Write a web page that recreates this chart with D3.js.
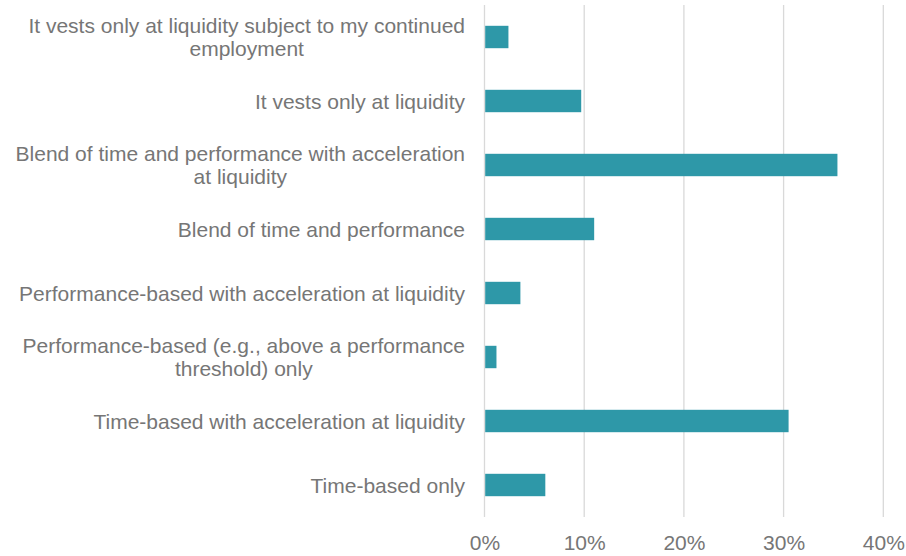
<!DOCTYPE html>
<html>
<head>
<meta charset="utf-8">
<script src="https://cdn.jsdelivr.net/npm/d3@7"></script>
<style>
  body { margin: 0; background: #fff; }
  svg text { font-family: "Liberation Sans", Arial, sans-serif; fill: #767676; }
</style>
</head>
<body>
<div class="barchart"></div>
<script>
// categories, top to bottom
var categories = [
    "It vests only at liquidity subject to my continued employment",
    "It vests only at liquidity",
    "Blend of time and performance with acceleration at liquidity",
    "Blend of time and performance",
    "Performance-based with acceleration at liquidity",
    "Performance-based (e.g., above a performance threshold) only",
    "Time-based with acceleration at liquidity",
    "Time-based only"
];
// share of respondents (%)
var values = [2.4, 9.7, 35.4, 11.0, 3.6, 1.2, 30.5, 6.1];
var ticks = [0, 10, 20, 30, 40];

var width = 906, height = 556;
// plot area (note: "top" is a reserved window global, so use plot*)
var plotLeft = 484.5, plotRight = 883.3, plotTop = 5, plotBottom = 517;
var fontSize = '21px';

var svg = d3.select('.barchart')
    .append("svg")
    .attr("width", width)
    .attr("height", height);

var x = d3.scaleLinear()
    .domain([0, 40])
    .range([plotLeft, plotRight]);

var y = d3.scaleBand()
    .domain(categories)
    .range([plotTop, plotBottom])
    .paddingInner(0.65)
    .paddingOuter(0.325);

// gridlines
svg.append('g').attr('class', 'grid')
    .selectAll('line')
    .data(ticks)
    .enter().append('line')
    .attr('x1', function(d) { return x(d); })
    .attr('x2', function(d) { return x(d); })
    .attr('y1', plotTop)
    .attr('y2', plotBottom)
    .style('stroke', '#d9d9d9')
    .style('stroke-width', 1.3);

// bars
svg.append('g').attr('class', 'bars')
    .selectAll('rect')
    .data(values)
    .enter().append('rect')
    .attr('x', x(0) + 0.7)
    .attr('y', function(d, i) { return y(categories[i]); })
    .attr('width', function(d) { return x(d) - x(0) - 0.7; })
    .attr('height', y.bandwidth())
    .attr('fill', '#2e98a8');

// x axis labels
var xAxis = d3.axisBottom(x)
    .tickValues(ticks)
    .tickSize(0)
    .tickPadding(0)
    .tickFormat(function(d) { return d + '%'; });

var gx = svg.append('g')
    .attr('transform', 'translate(0,' + 550 + ')')
    .call(xAxis);
gx.select('.domain').remove();
gx.selectAll('text')
    .attr('y', 0)
    .attr('dy', 0)
    .style('font-size', fontSize)
    .style('font-family', '"Liberation Sans", Arial, sans-serif')
    .attr('fill', '#767676');

// category labels, wrapped; extra lines centred under the longest one
var labelRight = 465, maxW = 466, lineH = 23.5;
var labels = svg.append('g').attr('class', 'labels');

categories.forEach(function(c) {
    var t = labels.append('text')
        .style('font-size', fontSize)
        .attr('text-anchor', 'middle');
    var words = c.split(' '), lines = [], cur = [];
    var probe = t.append('tspan');
    words.forEach(function(w) {
        cur.push(w);
        probe.text(cur.join(' '));
        if (probe.node().getComputedTextLength() > maxW && cur.length > 1) {
            cur.pop();
            lines.push(cur.join(' '));
            cur = [w];
        }
    });
    lines.push(cur.join(' '));
    probe.remove();

    var widest = 0;
    lines.forEach(function(l) {
        var p = t.append('tspan').text(l);
        widest = Math.max(widest, p.node().getComputedTextLength());
        p.remove();
    });
    var cx = labelRight - widest / 2;
    var cy = y(c) + y.bandwidth() / 2;
    var y0 = cy - (lines.length - 1) * lineH / 2 + 7.5;
    lines.forEach(function(l, i) {
        t.append('tspan')
            .attr('x', cx)
            .attr('y', y0 + i * lineH)
            .text(l);
    });
});
</script>
</body>
</html>
